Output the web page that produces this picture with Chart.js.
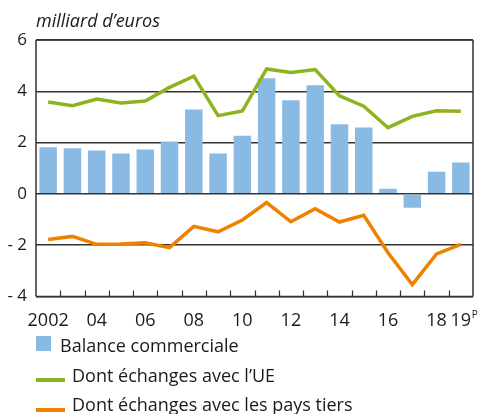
<!DOCTYPE html>
<html><head><meta charset="utf-8">
<script src="https://cdn.jsdelivr.net/npm/chart.js@4/dist/chart.umd.min.js"></script>
<style>
html,body{margin:0;padding:0;background:#fff;}
#wrap{position:relative;width:479px;height:414px;font-family:"Open Sans",sans-serif;color:#1a1a1a;overflow:hidden;}
#title{position:absolute;left:36px;top:10px;font-style:italic;font-size:18px;line-height:20px;white-space:nowrap;}
canvas{position:absolute;left:0;top:0;}
.lg{position:absolute;font-size:18px;line-height:20px;white-space:nowrap;}
.sw{position:absolute;}
</style></head>
<body>
<div id="wrap">
<canvas id="c" width="479" height="414"></canvas>
<div id="title">milliard d’euros</div>
<div class="sw" style="left:36px;top:336px;width:15px;height:15px;background:#89BAE4"></div>
<div class="lg" style="left:60px;top:335px">Balance commerciale</div>
<div class="sw" style="left:36px;top:378px;width:29px;height:4px;background:#8DB31E"></div>
<div class="lg" style="left:72px;top:365px">Dont échanges avec l’UE</div>
<div class="sw" style="left:36px;top:408px;width:29px;height:4px;background:#F08100"></div>
<div class="lg" style="left:72px;top:394px">Dont échanges avec les pays tiers</div>
</div>
<script>
const years = ["2002","2003","2004","2005","2006","2007","2008","2009","2010","2011","2012","2013","2014","2015","2016","2017","2018","2019"];
const tickLabels = ["2002","","04","","06","","08","","10","","12","","14","","16","","18","19"];
const tickSup = ["","","","","","","","","","","","","","","","","","P"];
const balance = [1.82,1.78,1.69,1.57,1.73,2.04,3.29,1.57,2.27,4.51,3.65,4.24,2.71,2.59,0.20,-0.54,0.86,1.22];
const ue = [3.58,3.44,3.70,3.54,3.62,4.15,4.59,3.05,3.23,4.87,4.73,4.85,3.82,3.42,2.58,3.02,3.24,3.22];
const tiers = [-1.78,-1.66,-1.97,-1.96,-1.91,-2.10,-1.27,-1.48,-1.02,-0.34,-1.09,-0.58,-1.10,-0.84,-2.30,-3.54,-2.34,-1.97];

const TICK_FONT = '18px "Open Sans"';

const frame = {
  id:'frame',
  afterDatasetsDraw(chart){
    const {ctx, chartArea:a, scales:{x}} = chart;
    ctx.save();
    ctx.strokeStyle='#333'; ctx.lineWidth=1.5;
    ctx.beginPath();
    ctx.moveTo(a.left,a.top); ctx.lineTo(a.right,a.top);
    ctx.moveTo(a.right,a.top); ctx.lineTo(a.right,a.bottom);
    ctx.moveTo(a.left,a.top); ctx.lineTo(a.left,a.bottom);
    ctx.moveTo(a.left,a.bottom); ctx.lineTo(a.right,a.bottom);
    ctx.stroke();
    ctx.lineWidth=1.2;
    ctx.beginPath();
    for(let i=1;i<years.length;i++){
      const px=(x.getPixelForValue(i-1)+x.getPixelForValue(i))/2;
      ctx.moveTo(Math.round(px)+0.5,a.bottom); ctx.lineTo(Math.round(px)+0.5,a.bottom-6);
    }
    ctx.stroke();
    ctx.restore();
  },
  afterDraw(chart){
    const {ctx, chartArea:a, scales:{x}} = chart;
    ctx.save();
    for(let i=0;i<years.length;i++){
      if(!tickSup[i]) continue;
      ctx.font = TICK_FONT;
      const w = ctx.measureText(tickLabels[i]).width;
      const px = x.getPixelForValue(i) + w/2 + 0.5;
      ctx.font = '10px "Open Sans"';
      ctx.fillStyle = '#1a1a1a';
      ctx.textBaseline = 'top';
      ctx.textAlign = 'left';
      ctx.fillText(tickSup[i], px, a.bottom + 14);
    }
    ctx.restore();
  }
};

new Chart(document.getElementById('c'),{
  data:{
    labels: years,
    datasets:[
      {type:'line',label:'Dont échanges avec l’UE',data:ue,borderColor:'#8DB31E',borderWidth:3.5,pointRadius:0,tension:0,order:1},
      {type:'line',label:'Dont échanges avec les pays tiers',data:tiers,borderColor:'#F08100',borderWidth:3.5,pointRadius:0,tension:0,order:2},
      {type:'bar',label:'Balance commerciale',data:balance,backgroundColor:'#89BAE4',barPercentage:0.72,categoryPercentage:1,order:3}
    ]
  },
  options:{
    responsive:false,animation:false,
    layout:{padding:{top:40,right:6,left:0,bottom:76}},
    plugins:{legend:{display:false},tooltip:{enabled:false}},
    scales:{
      x:{
        offset:true,
        grid:{display:false},
        border:{display:false},
        ticks:{autoSkip:false,maxRotation:0,padding:6,color:'#1a1a1a',font:{family:'"Open Sans"',size:18},
          callback:(v,i)=>tickLabels[i]}
      },
      y:{
        min:-4,max:6,
        afterFit(s){s.width=36;},
        grid:{color:'#333',lineWidth:1.5,drawTicks:false},
        border:{display:false},
        ticks:{stepSize:2,padding:9,color:'#1a1a1a',font:{family:'"Open Sans"',size:17},
          callback:v=> v<0 ? '- '+Math.abs(v) : String(v)}
      }
    }
  },
  plugins:[frame]
});
</script>
</body></html>
